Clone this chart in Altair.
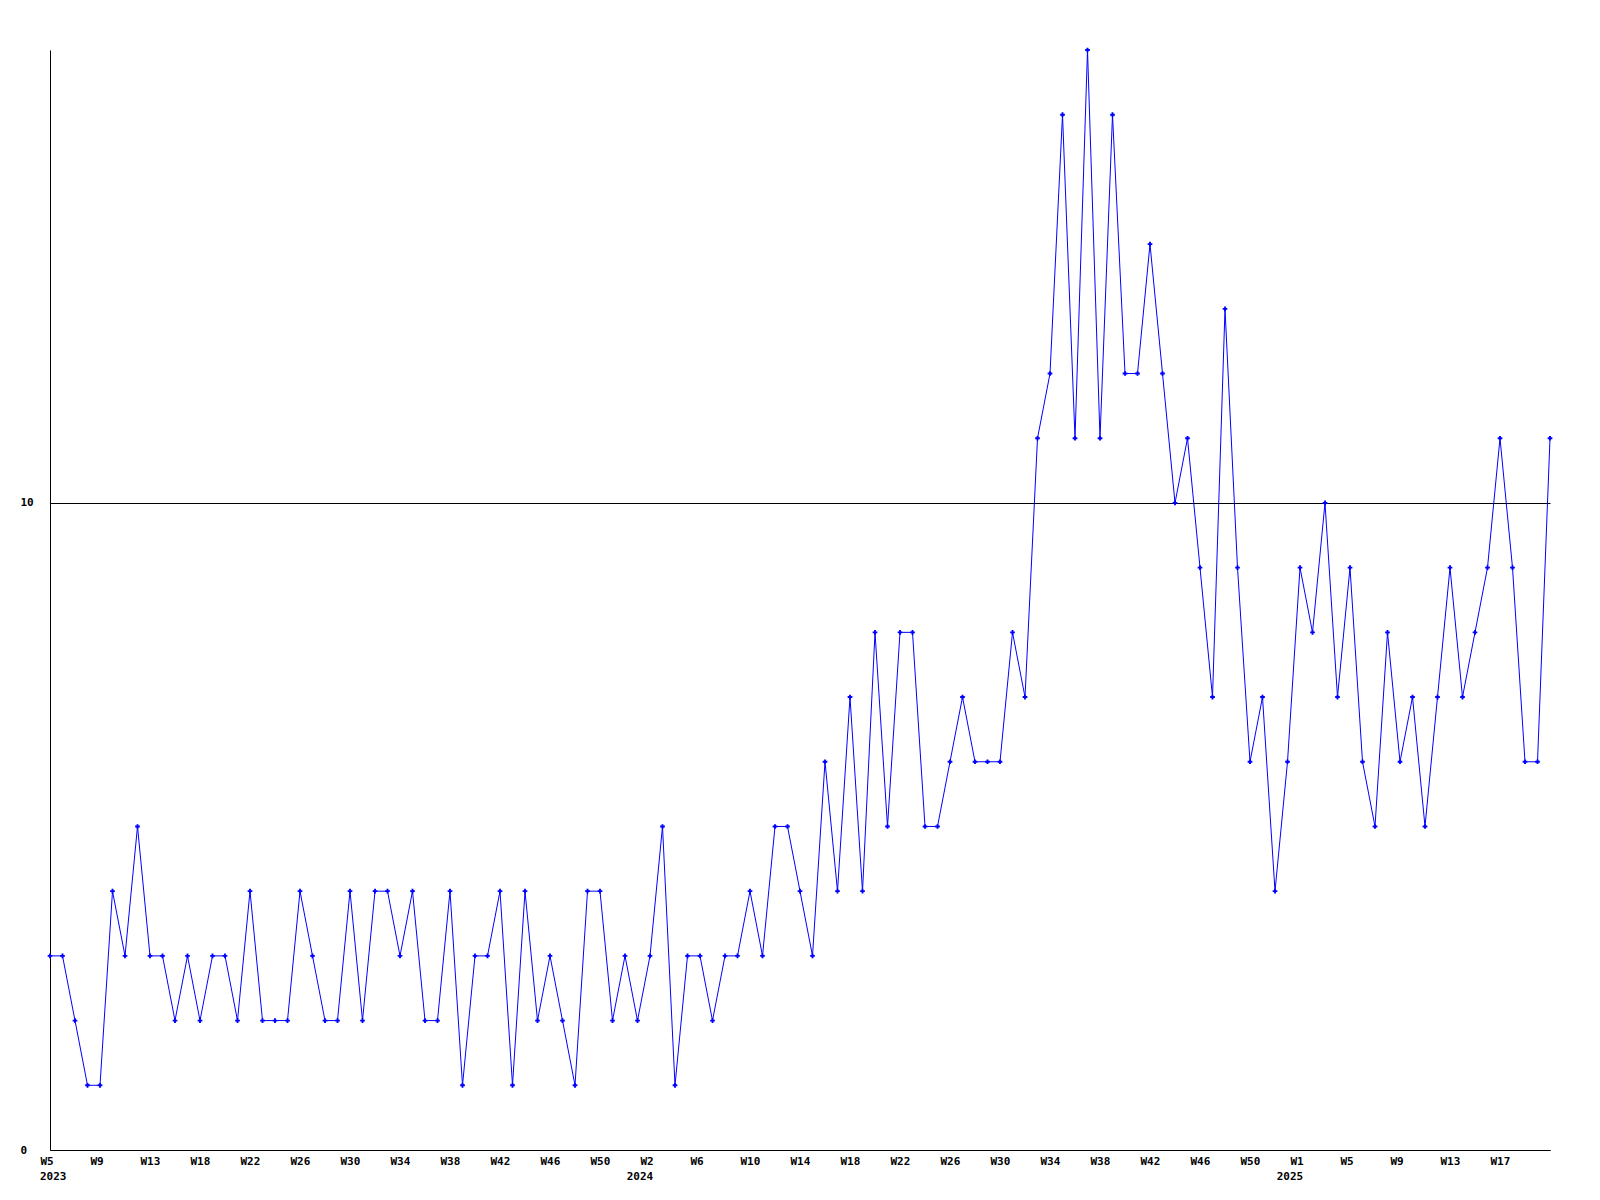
import altair as alt
import pandas as pd

values = [3, 3, 2, 1, 1, 4, 3, 5, 3, 3, 2, 3, 2, 3, 3, 2, 4, 2, 2, 2,
          4, 3, 2, 2, 4, 2, 4, 4, 3, 4, 2, 2, 4, 1, 3, 3, 4, 1, 4, 2,
          3, 2, 1, 4, 4, 2, 3, 2, 3, 5, 1, 3, 3, 2, 3, 3, 4, 3, 5, 5,
          4, 3, 6, 4, 7, 4, 8, 5, 8, 8, 5, 5, 6, 7, 6, 6, 6, 8, 7, 11,
          12, 16, 11, 17, 11, 16, 12, 12, 14, 12, 10, 11, 9, 7, 13, 9, 6, 7, 4, 6,
          9, 8, 10, 7, 9, 6, 5, 8, 6, 7, 5, 7, 9, 7, 8, 9, 11, 9, 6, 6,
          11]

week_labels = ["W5", "W9", "W13", "W18", "W22", "W26", "W30", "W34", "W38", "W42", "W46", "W50",
               "W2", "W6", "W10", "W14", "W18", "W22", "W26", "W30", "W34", "W38", "W42", "W46", "W50",
               "W1", "W5", "W9", "W13", "W17"]
label_every = 4

years = ["2023", "2024", "2025"]
year_index = [0, 48, 100]
year_align = ["left", "center", "center"]

y_ticks = [0, 10]

df = pd.DataFrame({"i": list(range(len(values))), "v": values})
ydf = pd.DataFrame({"i": year_index, "year": years, "align": year_align})

font = "DejaVu Sans Mono"
W, H = 1500, 1100
tick_vals = [k * label_every for k in range(len(week_labels))]
label_js = "[" + ",".join("'" + s + "'" for s in week_labels) + "]"

xscale = alt.Scale(domain=[0, len(values) - 1], nice=False, zero=False)
yscale = alt.Scale(domain=[0, 17], nice=False)

x_axis = alt.Axis(values=tick_vals, labelExpr=f"{label_js}[round(datum.value/{label_every})]",
                  grid=False, ticks=False, domainColor="black", domainWidth=1,
                  labelAlign="left", labelOffset=-10, labelPadding=5, labelBaseline="top",
                  labelFont=font, labelFontWeight="bold", labelFontSize=11, labelColor="black",
                  title=None, labelOverlap=False, labelFlush=False)
y_axis = alt.Axis(values=y_ticks, format="d", grid=True, gridColor="black", gridWidth=1, gridOpacity=1,
                  ticks=False, domainColor="black", domainWidth=1,
                  labelAlign="left", labelPadding=30, labelBaseline="middle",
                  labelFont=font, labelFontWeight="bold", labelFontSize=11, labelColor="black",
                  title=None)

line = alt.Chart(df).mark_line(color="#0000ff", strokeWidth=1).encode(
    x=alt.X("i:Q", scale=xscale, axis=x_axis),
    y=alt.Y("v:Q", scale=yscale, axis=y_axis),
)
pts = alt.Chart(df).mark_point(shape="cross", filled=True, color="#0000ff", size=22, opacity=1).encode(
    x=alt.X("i:Q", scale=xscale),
    y=alt.Y("v:Q", scale=yscale),
)
yr_left = alt.Chart(ydf[ydf["align"] == "left"]).mark_text(
    align="left", baseline="middle", dx=-10, font=font, fontWeight="bold", fontSize=11, color="black"
).encode(x=alt.X("i:Q", scale=xscale), y=alt.value(H + 27), text="year:N")
yr_center = alt.Chart(ydf[ydf["align"] == "center"]).mark_text(
    align="center", baseline="middle", dx=-10, font=font, fontWeight="bold", fontSize=11, color="black"
).encode(x=alt.X("i:Q", scale=xscale), y=alt.value(H + 27), text="year:N")

chart = alt.layer(line, pts, yr_left, yr_center).properties(
    width=W, height=H,
    background="white",
    autosize=alt.AutoSizeParams(type="none"),
    padding={"left": 42, "top": 42, "right": 20, "bottom": 45},
).configure_view(stroke=None)

chart.save("out.html", embed_options={"renderer": "svg", "actions": False})
